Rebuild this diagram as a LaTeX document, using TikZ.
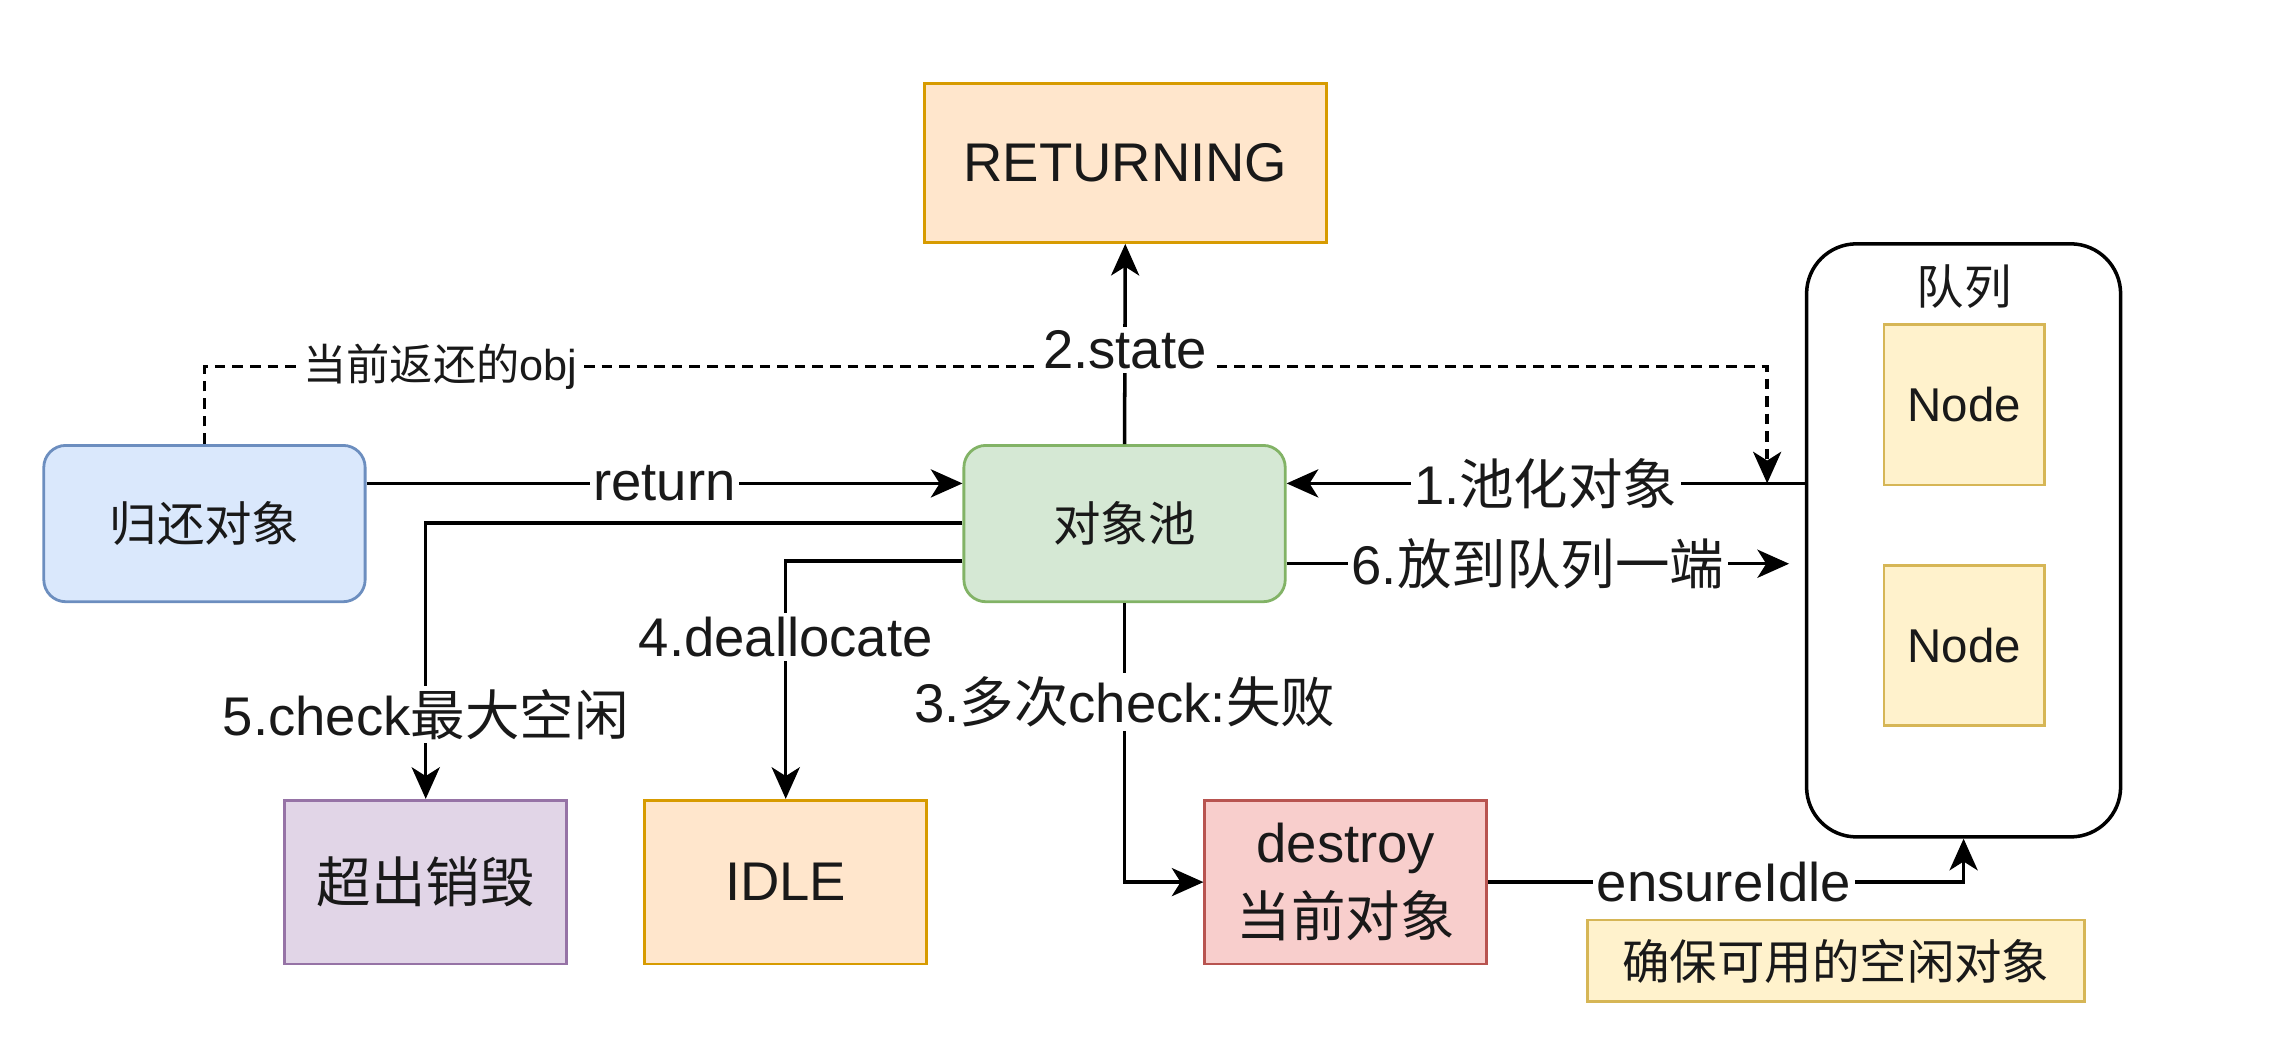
\documentclass[tikz,border=0pt]{standalone}
\usepackage{fontspec}
\setmainfont{Liberation Sans}
\newfontfamily\cjk{Noto Sans CJK SC}
\usetikzlibrary{arrows.meta}
\newcommand{\zh}[1]{{\cjk #1}}
\definecolor{blueFill}{HTML}{DAE8FC}\definecolor{blueLine}{HTML}{6C8EBF}
\definecolor{greenFill}{HTML}{D5E8D4}\definecolor{greenLine}{HTML}{82B366}
\definecolor{orangeFill}{HTML}{FFE6CC}\definecolor{orangeLine}{HTML}{D79B00}
\definecolor{yellowFill}{HTML}{FFF2CC}\definecolor{yellowLine}{HTML}{D6B656}
\definecolor{redFill}{HTML}{F8CECC}\definecolor{redLine}{HTML}{B85450}
\definecolor{purpleFill}{HTML}{E1D5E7}\definecolor{purpleLine}{HTML}{9673A6}
\tikzset{
	box/.style={draw, line width=0.8pt, inner sep=0pt, align=center, text=black!90, font=\fontsize{15.5}{21}\selectfont},
	midbox/.style={box, font=\fontsize{13.5}{16}\selectfont},
	arr/.style={line width=1pt, -{Stealth[length=9pt, width=8pt, inset=2.5pt]}},
	lbl/.style={fill=white, inner sep=1pt, text=black!90, font=\fontsize{15.5}{18}\selectfont},
	dashline/.style={arr, dash pattern=on 3pt off 2pt}
}
\begin{document}
\begin{tikzpicture}[x=0.014605cm, y=-0.014605cm]
	\useasboundingbox (0,0) rectangle (1568,713);
	\node[midbox, fill=blueFill, draw=blueLine, rounded corners=0.22cm, minimum width=3.213cm, minimum height=1.563cm] (giveback) at (140,358.5) {\zh{归还对象}};
	\node[midbox, fill=greenFill, draw=greenLine, rounded corners=0.22cm, minimum width=3.213cm, minimum height=1.563cm] (pool) at (770,358.5) {\zh{对象池}};
	\node[box, fill=orangeFill, draw=orangeLine, minimum width=4.016cm, minimum height=1.592cm] (returning) at (770.5,111.5) {RETURNING};
	\node[box, draw=black, line width=1pt, rounded corners=0.5cm, minimum width=3.14cm, minimum height=5.93cm] (queue) at (1344.5,370) {};
	\node[midbox, draw=none] (qtitle) at (1345,196) {\zh{队列}};
	\node[midbox, fill=yellowFill, draw=yellowLine, minimum width=1.607cm, minimum height=1.607cm] (node1) at (1345,277) {Node};
	\node[midbox, fill=yellowFill, draw=yellowLine, minimum width=1.607cm, minimum height=1.607cm] (node2) at (1345,442) {Node};
	\node[box, fill=purpleFill, draw=purpleLine, minimum width=2.819cm, minimum height=1.636cm] (overflow) at (291.5,604) {\zh{超出销毁}};
	\node[box, fill=orangeFill, draw=orangeLine, minimum width=2.819cm, minimum height=1.636cm] (idle) at (538,604) {IDLE};
	\node[box, fill=redFill, draw=redLine, minimum width=2.819cm, minimum height=1.636cm] (destroy) at (921.5,604) {destroy\\\zh{当前对象}};
	\node[midbox, fill=yellowFill, draw=yellowLine, minimum width=4.966cm, minimum height=0.818cm] (ensure) at (1257,658) {\zh{确保可用的空闲对象}};
	\coordinate (qdrop) at (1210,331);
	\coordinate (qin) at (1225,386);
	\draw[dashline] (giveback.north) -- (giveback.north |- 0,251) -- node[lbl, pos=0.151, font=\fontsize{12.3}{14}\selectfont]{\zh{当前返还的}obj} (qdrop |- 0,251) -- (qdrop);
	\draw[arr] (pool.north) -- node[lbl, pos=0.47]{2.state} (returning.south);
	\draw[arr] (giveback.east |- 0,331) -- node[lbl]{return} (pool.west |- 0,331);
	\draw[arr] (queue.west |- 0,331) -- node[lbl]{1.\zh{池化对象}} (pool.east |- 0,331);
	\draw[arr] (pool.east |- 0,386) -- node[lbl]{6.\zh{放到队列一端}} (qin);
	\draw[arr] (pool.west |- 0,358) -| node[lbl, pos=0.847]{5.check\zh{最大空闲}} (overflow.north);
	\draw[arr] (pool.west |- 0,384) -| node[lbl, pos=0.66]{4.deallocate} (idle.north);
	\draw[arr] (pool.south) |- node[lbl, pos=0.177]{3.\zh{多次}check:\zh{失败}} (destroy.west);
	\draw[arr] (destroy.east) -| node[lbl, pos=0.248]{ensureIdle} (queue.south);
\end{tikzpicture}
\end{document}
